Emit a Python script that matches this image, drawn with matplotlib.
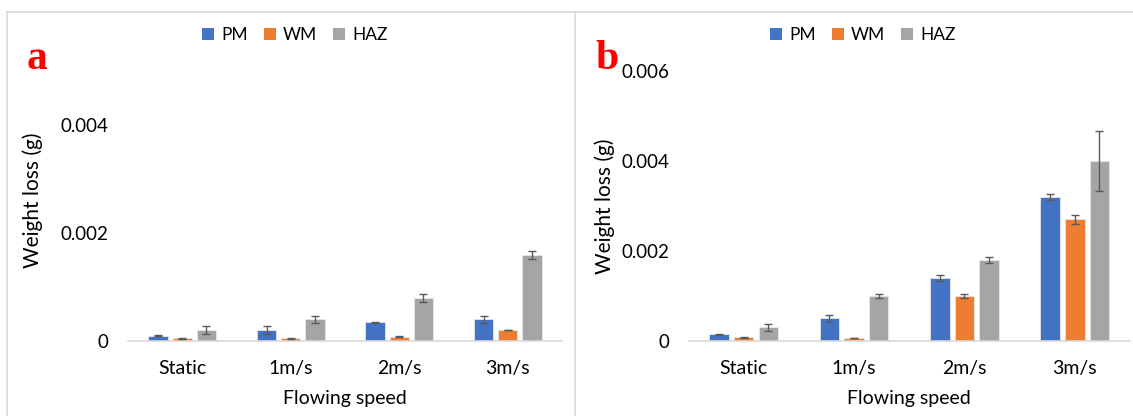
import numpy as np
import matplotlib.pyplot as plt
from matplotlib.lines import Line2D
from matplotlib.patches import Patch

plt.rcParams['font.family'] = ['Lato', 'DejaVu Sans']

# data
speeds = ['Static', '1m/s', '2m/s', '3m/s']
series = ['PM', 'WM', 'HAZ']

pm_a = [0.0001, 0.0002, 0.00035, 0.0004]
wm_a = [0.00005, 0.00005, 0.00008, 0.0002]
haz_a = [0.0002, 0.0004, 0.0008, 0.0016]
pm_a_err = [0.00001, 0.00007, 0.00001, 0.00007]
wm_a_err = [0.000005, 0.000005, 0.000005, 0.000005]
haz_a_err = [0.00007, 0.00007, 0.00007, 0.00007]

pm_b = [0.00015, 0.0005, 0.0014, 0.0032]
wm_b = [0.00008, 0.00007, 0.001, 0.0027]
haz_b = [0.0003, 0.001, 0.0018, 0.004]
pm_b_err = [0.00001, 0.00007, 0.00007, 0.00007]
wm_b_err = [0.000005, 0.000005, 0.00005, 0.0001]
haz_b_err = [0.00008, 0.00005, 0.00007, 0.00067]

colors = ['#4472C4', '#ED7D31', '#A5A5A5']
W, H = 1133, 416

fig = plt.figure(figsize=(W / 100, H / 100), dpi=100)

# light panel frames
frame = '#D9D9D9'
for xs, ys in [([7, 7], [0, 404.3]), ([7, 574], [404.3, 404.3]),
               ([575, 575], [0, 404.3]), ([575, 1133], [404.3, 404.3])]:
    fig.add_artist(Line2D(np.array(xs) / W, np.array(ys) / H, color=frame, lw=1.2))


def panel(rect, vals, errs, ymax, yticks, letter, letter_x, ylab_x, ylab_y, leg_x):
    ax = fig.add_axes(rect)
    x = np.arange(len(speeds))
    step = 0.223
    for i in range(3):
        ax.bar(x + (i - 1) * step, vals[i], 0.177, color=colors[i],
               edgecolor='#E8E8E8', linewidth=0.6, zorder=2)
        ax.errorbar(x + (i - 1) * step, vals[i], yerr=errs[i], fmt='none',
                    ecolor='#5A5A5A', elinewidth=1, capsize=2.6, capthick=1,
                    zorder=3, clip_on=False)
    ax.set_xlim(-0.5, 3.5)
    ax.set_ylim(0, ymax)
    ax.set_yticks(yticks)
    ax.set_yticklabels(['0' if t == 0 else f'{t:.3f}' for t in yticks])
    ax.set_xticks(x)
    ax.set_xticklabels(speeds)
    ax.tick_params(length=0, colors='#000000')
    ax.tick_params(axis='y', pad=14, labelsize=13.5)
    ax.tick_params(axis='x', pad=14, labelsize=14)
    for s in ['top', 'right', 'left']:
        ax.spines[s].set_visible(False)
    ax.spines['bottom'].set_color('#D9D9D9')
    ax.spines['bottom'].set_linewidth(1.2)
    ax.set_xlabel('Flowing speed', fontsize=14, labelpad=9)
    fig.text(ylab_x / W, 1 - ylab_y / H, 'Weight loss (g)', rotation=90,
             fontsize=15, ha='center', va='center')
    fig.text(letter_x / W, 1 - 69 / H, letter, color='red', fontsize=30,
             fontweight='bold', family='Liberation Serif', ha='left',
             va='baseline')
    handles = [Patch(facecolor=c, edgecolor='none') for c in colors]
    fig.legend(handles, series, loc='center', ncol=3, frameon=False,
               bbox_to_anchor=(leg_x / W, 1 - 35 / H), fontsize=12.5,
               handlelength=0.67, handleheight=0.67, handletextpad=0.4,
               columnspacing=0.95)
    return ax


panel([128 / W, 1 - 341 / H, 434 / W, 215.5 / H],
      [pm_a, wm_a, haz_a], [pm_a_err, wm_a_err, haz_a_err],
      0.004, [0, 0.002, 0.004], 'a', 27, 32.5, 200, 295)

panel([688.5 / W, 1 - 341 / H, 441.5 / W, 270.2 / H],
      [pm_b, wm_b, haz_b], [pm_b_err, wm_b_err, haz_b_err],
      0.006, [0, 0.002, 0.004, 0.006], 'b', 595, 605, 206.7, 863)

plt.savefig('out.png', dpi=100)
